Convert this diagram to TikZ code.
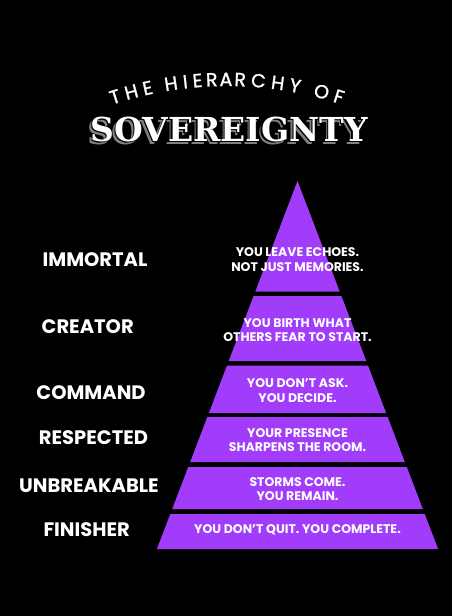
\documentclass[tikz,border=0pt]{standalone}
\usepackage{fontspec}
\setmainfont{Poppins}
\newfontfamily\slabfont{DejaVu Serif}
\newfontfamily\arcfont{Poppins}[FakeBold=1.3]
\usepackage{tikz}
\definecolor{pyrviolet}{RGB}{160,60,250}
% white letters with a dropped grey shadow
\newcommand\dropshade[1]{%
	\rlap{\hspace{-2.5pt}\raisebox{-3pt}{\color{gray}#1}}%
	\rlap{\hspace{-1.2pt}\raisebox{-1.4pt}{\color{black}#1}}%
	{\color{white}#1}}

\begin{document}
\begin{tikzpicture}[x=1pt,y=-1pt,
	band/.style={fill=pyrviolet},
	rank/.style={text=white,font=\bfseries\fontsize{19.5}{19.5}\selectfont},
	motto/.style={text=white,align=center,font=\bfseries\fontsize{12.5}{14.5}\selectfont},
	arcletter/.style={text=white,inner sep=0pt,anchor=base,font=\arcfont\fontsize{19}{19}\selectfont},
	slab/.style={font=\slabfont\bfseries\fontsize{33}{33}\selectfont}]
	\fill[black] (0,0) rectangle (452,616);
	\useasboundingbox (0,0) rectangle (452,616);
	
	% title
	\foreach \ch/\xc [count=\i] in {T/117,H/133,E/149,H/172,I/186,E/198,R/212,A/226,R/240,C/258,H/277,Y/294,O/320,F/337}{
		\pgfmathsetmacro\ang{asin((\xc-227)/364)}
		\node[arcletter,rotate=-\ang] (arc\i) at ({227+364*sin(\ang)},{450-364*cos(\ang)}) {\ch};
	}
	
	\node[slab] (title) at (229,130.5) {\dropshade{SOVEREIGNTY}};
	
	% % % % % % % % % % % % % % % % % % % % % % % % % %
	
	\fill[band] (297.5,181) -- (339.7,291.5) -- (255.3,291.5) -- cycle;
	\fill[band] (253.6,296) -- (341.4,296) -- (366.3,361) -- (228.7,361) -- cycle;
	\fill[band] (227.0,365.5) -- (368.0,365.5) -- (386.1,413) -- (208.9,413) -- cycle;
	\fill[band] (207.3,417) -- (387.7,417) -- (404.8,462) -- (190.2,462) -- cycle;
	\fill[band] (188.2,467) -- (406.8,467) -- (422.8,509) -- (172.2,509) -- cycle;
	\fill[band] (170.3,514) -- (424.7,514) -- (438.1,549) -- (156.9,549) -- cycle;
	
	\node[motto] (echoes) at (297.5,259.5) {YOU LEAVE ECHOES.\\NOT JUST MEMORIES.};
	\node[motto] (birth) at (297.5,330) {YOU BIRTH WHAT\\OTHERS FEAR TO START.};
	\node[motto] (decide) at (297.5,390.5) {YOU DON’T ASK.\\YOU DECIDE.};
	\node[motto] (presence) at (297.5,440) {YOUR PRESENCE\\SHARPENS THE ROOM.};
	\node[motto] (storms) at (297.5,489) {STORMS COME.\\YOU REMAIN.};
	\node[motto] (complete) at (297.5,530) {YOU DON’T QUIT. YOU COMPLETE.};
	
	% % % % % % % % % % % % % % % % % % % % % % % % % %
	
	\node[rank] (immortal) at (95,260) {IMMORTAL};
	\node[rank] (creator) at (87.7,327) {CREATOR};
	\node[rank] (command) at (91,393) {COMMAND};
	\node[rank] (respected) at (93.5,438) {RESPECTED};
	\node[rank] (unbreakable) at (89,486) {UNBREAKABLE};
	\node[rank] (finisher) at (86.7,530) {FINISHER};
\end{tikzpicture}
\end{document}
